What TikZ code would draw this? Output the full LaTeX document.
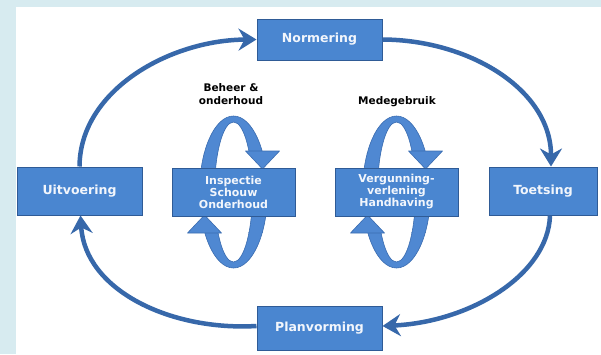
\documentclass[tikz,border=0pt]{standalone}
\usepackage{fontspec}
\setmainfont{DejaVu Sans}
\usetikzlibrary{arrows.meta}
\definecolor{bgblue}{HTML}{D7EBF0}
\definecolor{boxfill}{HTML}{4A86D0}
\definecolor{boxline}{HTML}{2F5B96}
\definecolor{arrowc}{HTML}{3768AA}
\definecolor{ringc}{HTML}{4F88D2}
\definecolor{ringedge}{HTML}{3A6CB0}
\definecolor{boxtext}{HTML}{F2F6FC}
\tikzset{
  stagebox/.style={draw=boxline, line width=1pt, fill=boxfill, text=boxtext,
    font=\bfseries\fontsize{12.5}{13}\selectfont, inner sep=0pt, align=center},
  innerbox/.style={stagebox, font=\bfseries\fontsize{11}{12}\selectfont},
  toplabel/.style={font=\bfseries\fontsize{10.5}{13}\selectfont, text=black, align=center, inner sep=0pt},
  cyclearrow/.style={draw=arrowc, line width=4.5pt,
    -{Stealth[length=18pt,width=22pt,inset=6pt]}},
  ringpart/.style={fill=ringc, draw=ringedge, line width=0.6pt, even odd rule},
  ringhead/.style={fill=ringc, draw=ringedge, line width=0.6pt, line join=round},
  loopband/.pic={
    \foreach \xa/\ya/\xb/\yb in {-40/-92/40/-39, -40/-39/0/0, -40/40/40/92, 0/0/40/40}{
      \begin{scope}
        \clip (\xa,\ya) rectangle (\xb,\yb);
        \path[ringpart] (0,0) ellipse [x radius=34pt, y radius=76pt]
                        (0,0) ellipse [x radius=19pt, y radius=70pt];
      \end{scope}
    }
    \path[ringhead] (12,-41) -- (46,-41) -- (29,-23) -- cycle;
    \path[ringhead] (-46,41) -- (-12,41) -- (-29,23) -- cycle;
  }
}
\begin{document}
\begin{tikzpicture}[x=1pt, y=-1pt]
  \useasboundingbox (0,0) rectangle (601,354);
  % background
  \fill[white] (0,0) rectangle (601,354);
  \fill[bgblue] (0,0) rectangle (601,7);
  \fill[bgblue] (0,0) rectangle (16,354);

  % inner loops
  \pic at (233.5,192) {loopband};
  \pic at (396.5,192) {loopband};

  % boxes
  \node[stagebox, minimum width=125pt, minimum height=41pt] (norm) at (319.5,39.5) {Normering};
  \node[stagebox, minimum width=125pt, minimum height=48pt] (uit) at (79.5,191) {Uitvoering};
  \node[stagebox, minimum width=108pt, minimum height=48pt] (toet) at (543,191) {Toetsing};
  \node[stagebox, minimum width=125pt, minimum height=44pt] (plan) at (319.5,328) {Planvorming};
  \node[innerbox, minimum width=123pt, minimum height=48pt] (insp) at (233.5,192) {Inspectie\\Schouw\\Onderhoud};
  \node[innerbox, minimum width=123pt, minimum height=48pt] (verg) at (396.5,192) {Vergunning-\\verlening\\Handhaving};

  % labels
  \node[toplabel] (lbeheer) at (231,94.5) {Beheer \&\\onderhoud};
  \node[toplabel] (lmede) at (397,101.5) {Medegebruik};

  % cycle arrows
  \draw[cyclearrow] (uit.north) .. controls (80,90) and (170,40) .. (norm.west);
  \draw[cyclearrow] (norm.east) .. controls (470,40) and (551,90) .. ([xshift=8pt]toet.north);
  \draw[cyclearrow] ([xshift=7pt]toet.south) .. controls (548,275) and (470,322) .. ([yshift=2pt]plan.east);
  \draw[cyclearrow] ([yshift=2pt]plan.west) .. controls (170,331) and (85,290) .. ([xshift=1pt]uit.south);
\end{tikzpicture}
\end{document}
